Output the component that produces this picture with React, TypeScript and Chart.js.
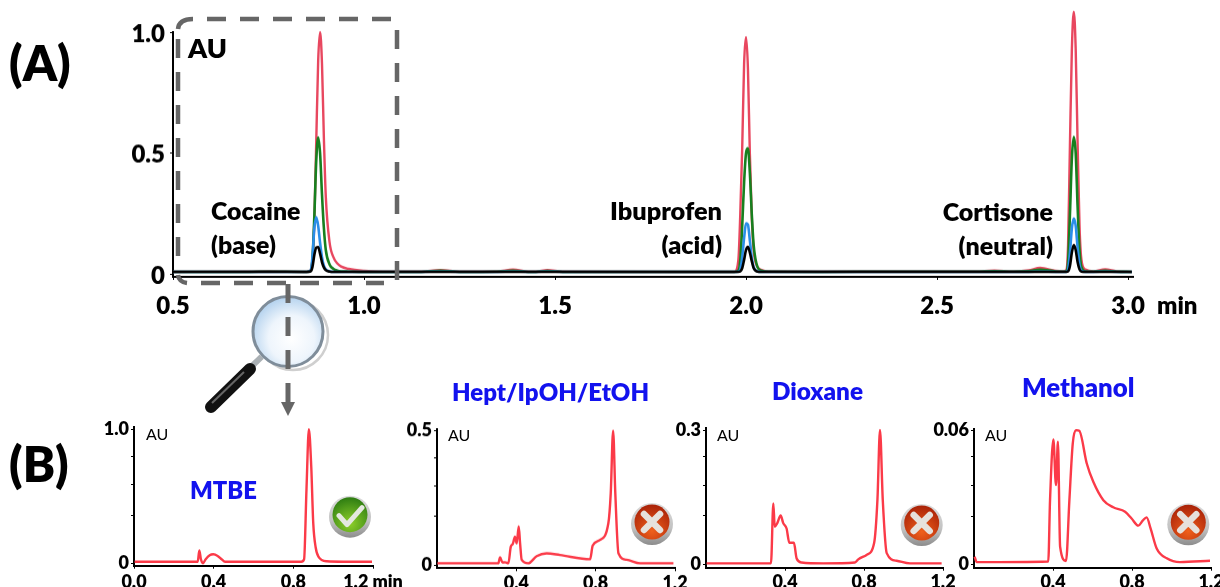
import React, { useEffect, useRef } from "react";
import { Chart, registerables } from "chart.js";

Chart.register(...registerables);

const FONT = "Lato, 'Open Sans', sans-serif";
const TICK_WEIGHT = "800";

// ---------- Panel A data ----------
const timesA = [
  0.5, 0.7, 0.75, 0.84,
  0.85, 0.86, 0.865, 0.87, 0.875, 0.88, 0.885, 0.89, 0.895, 0.9, 0.91, 0.92, 0.93, 0.94, 0.96, 1.0, 1.05,
  1.15, 1.2, 1.25, 1.35, 1.39, 1.43, 1.45, 1.48, 1.52, 1.8,
  1.97, 1.98, 1.985, 1.99, 1.995, 2.0, 2.005, 2.01, 2.015, 2.02, 2.03, 2.04, 2.06,
  2.2, 2.4, 2.6, 2.65, 2.7, 2.74, 2.77, 2.81, 2.83,
  2.838, 2.843, 2.848, 2.853, 2.858, 2.863, 2.868, 2.873, 2.878, 2.888,
  2.91, 2.94, 2.97, 3.01,
];
const redA = [
  0.01, 0.011, 0.013, 0.01,
  0.01, 0.016, 0.06, 0.22, 0.55, 0.88, 1.0, 0.87, 0.56, 0.32, 0.13, 0.07, 0.045, 0.032, 0.022, 0.014, 0.011,
  0.011, 0.017, 0.011, 0.012, 0.019, 0.011, 0.011, 0.017, 0.011, 0.01,
  0.01, 0.06, 0.25, 0.52, 0.87, 0.98, 0.85, 0.5, 0.24, 0.1, 0.03, 0.018, 0.012,
  0.011, 0.012, 0.012, 0.015, 0.012, 0.016, 0.026, 0.014, 0.012,
  0.016, 0.12, 0.54, 0.93, 1.084, 0.93, 0.54, 0.2, 0.06, 0.02,
  0.012, 0.02, 0.012, 0.01,
];
const greenA = [
  0.01, 0.01, 0.011, 0.01,
  0.01, 0.014, 0.06, 0.24, 0.47, 0.565, 0.5, 0.33, 0.19, 0.1, 0.04, 0.022, 0.015, 0.012, 0.011, 0.01, 0.01,
  0.01, 0.015, 0.01, 0.011, 0.015, 0.01, 0.01, 0.014, 0.01, 0.01,
  0.01, 0.015, 0.06, 0.2, 0.38, 0.5, 0.52, 0.42, 0.25, 0.12, 0.03, 0.015, 0.011,
  0.01, 0.011, 0.011, 0.013, 0.011, 0.013, 0.019, 0.012, 0.011,
  0.012, 0.05, 0.25, 0.48, 0.567, 0.5, 0.28, 0.1, 0.03, 0.012,
  0.011, 0.015, 0.011, 0.01,
];
const blueA = [
  0.01, 0.01, 0.01, 0.01,
  0.01, 0.015, 0.07, 0.19, 0.235, 0.2, 0.13, 0.07, 0.035, 0.02, 0.012, 0.01, 0.01, 0.01, 0.01, 0.01, 0.01,
  0.01, 0.011, 0.01, 0.01, 0.011, 0.01, 0.01, 0.011, 0.01, 0.01,
  0.01, 0.011, 0.02, 0.07, 0.15, 0.21, 0.205, 0.14, 0.07, 0.03, 0.012, 0.01, 0.01,
  0.01, 0.01, 0.01, 0.01, 0.01, 0.01, 0.011, 0.01, 0.01,
  0.01, 0.02, 0.09, 0.19, 0.23, 0.2, 0.11, 0.04, 0.015, 0.01,
  0.01, 0.011, 0.01, 0.01,
];
const blackA = [
  0.01, 0.01, 0.01, 0.01,
  0.01, 0.012, 0.03, 0.08, 0.11, 0.112, 0.085, 0.05, 0.028, 0.017, 0.011, 0.01, 0.01, 0.01, 0.01, 0.01, 0.01,
  0.01, 0.01, 0.01, 0.01, 0.01, 0.01, 0.01, 0.01, 0.01, 0.01,
  0.01, 0.01, 0.012, 0.025, 0.06, 0.1, 0.113, 0.09, 0.055, 0.025, 0.011, 0.01, 0.01,
  0.01, 0.01, 0.01, 0.01, 0.01, 0.01, 0.01, 0.01, 0.01,
  0.01, 0.012, 0.035, 0.09, 0.12, 0.1, 0.05, 0.02, 0.011, 0.01,
  0.01, 0.01, 0.01, 0.01,
];
const xTicksA = [0.5, 1.0, 1.5, 2.0, 2.5, 3.0];
const xLabelsA = ["0.5", "1.0", "1.5", "2.0", "2.5", "3.0"];
const yTicksA = [0, 0.5, 1.0];
const yLabelsA = ["0", "0.5", "1.0"];

// ---------- Panel B data ----------
const timesMTBE = [0.003, 0.32, 0.328, 0.336, 0.346, 0.36, 0.38, 0.398, 0.42, 0.44, 0.457, 0.6, 0.84, 0.854, 0.866, 0.878, 0.89, 0.9, 0.912, 0.926, 0.968, 1.05, 1.195];
const valuesMTBE = [0.012, 0.012, 0.095, 0.03, 0.0, 0.03, 0.06, 0.067, 0.055, 0.03, 0.012, 0.012, 0.012, 0.03, 0.55, 1.0, 0.72, 0.3, 0.12, 0.05, 0.015, 0.012, 0.012];

const timesHept = [0.002, 0.309, 0.318, 0.33, 0.343, 0.36, 0.372, 0.382, 0.393, 0.402, 0.412, 0.419, 0.427, 0.46, 0.503, 0.553, 0.62, 0.772, 0.785, 0.822, 0.864, 0.876, 0.888, 0.899, 0.915, 0.956, 1.024, 1.192];
const valuesHept = [0.006, 0.006, 0.0285, 0.009, 0.01, 0.006, 0.068, 0.078, 0.105, 0.08, 0.143, 0.08, 0.019, 0.006, 0.033, 0.043, 0.037, 0.021, 0.072, 0.093, 0.155, 0.267, 0.5, 0.267, 0.043, 0.019, 0.006, 0.006];

const timesDioxane = [0.003, 0.329, 0.341, 0.348, 0.361, 0.378, 0.391, 0.408, 0.422, 0.445, 0.459, 0.484, 0.594, 0.754, 0.771, 0.813, 0.851, 0.868, 0.881, 0.895, 0.915, 0.965, 1.033, 1.193];
const valuesDioxane = [0.002, 0.002, 0.136, 0.084, 0.092, 0.109, 0.092, 0.08, 0.048, 0.048, 0.013, 0.004, 0.002, 0.004, 0.011, 0.021, 0.047, 0.144, 0.3, 0.144, 0.025, 0.008, 0.002, 0.002];

const timesMethanol = [0.003, 0.014, 0.376, 0.385, 0.402, 0.415, 0.425, 0.436, 0.466, 0.483, 0.5, 0.516, 0.533, 0.571, 0.604, 0.655, 0.705, 0.765, 0.798, 0.832, 0.854, 0.874, 0.894, 0.925, 0.976, 1.043, 1.195];
const valuesMethanol = [0.0034, 0.001, 0.0013, 0.0287, 0.0558, 0.0354, 0.0548, 0.0079, 0.0015, 0.0287, 0.054, 0.06, 0.0597, 0.0451, 0.0369, 0.0287, 0.0255, 0.0235, 0.0205, 0.0173, 0.0195, 0.021, 0.0161, 0.0071, 0.0027, 0.001, 0.0016];

const xTicksMTBE = [0.0, 0.4, 0.8, 1.2];
const xLabelsMTBE = ["0.0", "0.4", "0.8", "1.2 min"];
const xTicksOther = [0.4, 0.8, 1.2];
const xLabelsOther = ["0.4", "0.8", "1.2"];
const yTicksMTBE = [0, 0.36, 0.585, 0.8, 1.0];
const yLabelsMTBE = ["0", "", "", "", "1.0"];
const yTicksHept = [0, 0.18, 0.2925, 0.4, 0.5];
const yLabelsHept = ["0", "", "", "", "0.5"];
const yTicksDioxane = [0, 0.108, 0.1755, 0.24, 0.3];
const yLabelsDioxane = ["0", "", "", "", "0.3"];
const yTicksMethanol = [0, 0.0216, 0.0351, 0.048, 0.06];
const yLabelsMethanol = ["0", "", "", "", "0.06"];

const RED_A = "#e8475f";
const GREEN_A = "#17801f";
const BLUE_A = "#2a8ee8";
const RED_B = "#fb3a48";
const BLUE_TEXT = "#1212ee";

type Frame = { l: number; t: number; r: number; b: number };
type PanelCfg = {
  frame: Frame;
  datasets: any[];
  xMin: number;
  xMax: number;
  xTicks: number[];
  xLabels: string[];
  yMin: number;
  yMax: number;
  yTicks: number[];
  yLabels: string[];
  fontSize: number;
  xPad: number;
  yPad: number;
  yShift: number;
  extraBottom: number;
};

const series = (xs: number[], ys: number[]) => xs.map((x, i) => ({ x, y: ys[i] }));

const line = (label: string, xs: number[], ys: number[], color: string, width: number) => ({
  label,
  data: series(xs, ys),
  borderColor: color,
  borderWidth: width,
  pointRadius: 0,
  cubicInterpolationMode: "monotone",
  clip: false,
});

const panelA: PanelCfg = {
  frame: { l: 173, t: 32, r: 1133, b: 276.7 },
  datasets: [
    line("black", timesA, blackA, "#000000", 2.6),
    line("blue", timesA, blueA, BLUE_A, 2.6),
    line("green", timesA, greenA, GREEN_A, 2.6),
    line("red", timesA, redA, RED_A, 2.4),
  ],
  xMin: 0.5,
  xMax: 3.013,
  xTicks: xTicksA,
  xLabels: xLabelsA,
  yMin: -0.011,
  yMax: 1.0,
  yTicks: yTicksA,
  yLabels: yLabelsA,
  fontSize: 24,
  xPad: 12,
  yPad: 5,
  yShift: 2,
  extraBottom: 40,
};

const panelsB: PanelCfg[] = [
  {
    frame: { l: 134, t: 427, r: 373, b: 565.7 },
    datasets: [line("MTBE", timesMTBE, valuesMTBE, RED_B, 2.4)],
    xMin: 0, xMax: 1.2, xTicks: xTicksMTBE, xLabels: xLabelsMTBE,
    yMin: -0.018, yMax: 1.017, yTicks: yTicksMTBE, yLabels: yLabelsMTBE,
    fontSize: 18, xPad: 3, yPad: 2, yShift: 0, extraBottom: 21.3,
  },
  {
    frame: { l: 437, t: 429.3, r: 675, b: 568.3 },
    datasets: [line("Hept/IpOH/EtOH", timesHept, valuesHept, RED_B, 2.4)],
    xMin: 0, xMax: 1.2, xTicks: xTicksOther, xLabels: xLabelsOther,
    yMin: -0.0123, yMax: 0.505, yTicks: yTicksHept, yLabels: yLabelsHept,
    fontSize: 18, xPad: 1, yPad: 2, yShift: 0, extraBottom: 18.7,
  },
  {
    frame: { l: 706, t: 428, r: 943, b: 567.7 },
    datasets: [line("Dioxane", timesDioxane, valuesDioxane, RED_B, 2.4)],
    xMin: 0, xMax: 1.2, xTicks: xTicksOther, xLabels: xLabelsOther,
    yMin: -0.0076, yMax: 0.3045, yTicks: yTicksDioxane, yLabels: yLabelsDioxane,
    fontSize: 18, xPad: 1, yPad: 2, yShift: 0, extraBottom: 19.3,
  },
  {
    frame: { l: 974, t: 429, r: 1211, b: 567.7 },
    datasets: [line("Methanol", timesMethanol, valuesMethanol, RED_B, 2.4)],
    xMin: 0, xMax: 1.2, xTicks: xTicksOther, xLabels: xLabelsOther,
    yMin: -0.0015, yMax: 0.0605, yTicks: yTicksMethanol, yLabels: yLabelsMethanol,
    fontSize: 18, xPad: 1, yPad: 2, yShift: 0, extraBottom: 19.3,
  },
];

const LEFT_EXTRA = 70;
const TOP_EXTRA = 30;
const RIGHT_EXTRA = 40;

function Panel({ cfg }: { cfg: PanelCfg }) {
  const ref = useRef<HTMLCanvasElement>(null);
  const { frame } = cfg;
  const width = frame.r - frame.l + LEFT_EXTRA + RIGHT_EXTRA;
  const height = frame.b - frame.t + TOP_EXTRA + cfg.extraBottom;

  useEffect(() => {
    if (!ref.current) return;
    const font = { family: FONT, size: cfg.fontSize, weight: TICK_WEIGHT };
    const chart = new Chart(ref.current, {
      type: "line",
      data: { datasets: cfg.datasets },
      options: {
        animation: false,
        responsive: false,
        maintainAspectRatio: false,
        layout: {
          autoPadding: false,
          padding: { left: 0, top: TOP_EXTRA, right: RIGHT_EXTRA, bottom: 0 },
        },
        plugins: { legend: { display: false }, tooltip: { enabled: false }, title: { display: false } },
        scales: {
          x: {
            type: "linear",
            min: cfg.xMin,
            max: cfg.xMax,
            afterBuildTicks: (s: any) => { s.ticks = cfg.xTicks.map((value) => ({ value })); },
            afterFit: (s: any) => { s.height = cfg.extraBottom; },
            border: { display: true, color: "#000", width: 2 },
            grid: { display: true, drawOnChartArea: false, drawTicks: true, tickLength: 3, tickColor: "#000", tickWidth: 1 },
            ticks: {
              autoSkip: false,
              maxRotation: 0,
              color: "#000",
              padding: cfg.xPad,
              font,
              callback: (v: any) => cfg.xLabels[cfg.xTicks.indexOf(v)] ?? "",
            },
          },
          y: {
            type: "linear",
            min: cfg.yMin,
            max: cfg.yMax,
            afterBuildTicks: (s: any) => { s.ticks = cfg.yTicks.map((value) => ({ value })); },
            afterFit: (s: any) => { s.width = LEFT_EXTRA; },
            border: { display: true, color: "#000", width: 2 },
            grid: { display: true, drawOnChartArea: false, drawTicks: true, tickLength: 3, tickColor: "#000", tickWidth: 1 },
            ticks: {
              autoSkip: false,
              color: "#000",
              padding: cfg.yPad,
              labelOffset: cfg.yShift,
              font,
              callback: (v: any) => cfg.yLabels[cfg.yTicks.indexOf(v)] ?? "",
            },
          },
        },
      } as any,
    });
    return () => chart.destroy();
  }, []);

  return (
    <canvas
      ref={ref}
      width={width}
      height={height}
      style={{ position: "absolute", left: frame.l - LEFT_EXTRA, top: frame.t - TOP_EXTRA, width, height }}
    />
  );
}

type Note = { text: string; x: number; y: number; size: number; color?: string; weight?: number; right?: boolean };

// x is the left edge (or the right edge when right is set), y the vertical centre of the text
const notes: Note[] = [
  { text: "(A)", x: 9, y: 62, size: 48.5, weight: 800 },
  { text: "(B)", x: 9, y: 463, size: 48.5, weight: 800 },
  { text: "AU", x: 188, y: 47, size: 27, weight: 800 },
  { text: "Cocaine", x: 211, y: 211, size: 24.8, weight: 800 },
  { text: "(base)", x: 211, y: 245, size: 24.8, weight: 800 },
  { text: "Ibuprofen", x: 722, y: 211, size: 25.3, weight: 800, right: true },
  { text: "(acid)", x: 722, y: 245, size: 25.3, weight: 800, right: true },
  { text: "Cortisone", x: 1053, y: 211, size: 25, weight: 800, right: true },
  { text: "(neutral)", x: 1053, y: 245, size: 25, weight: 800, right: true },
  { text: "min", x: 1157, y: 305, size: 24, weight: 800 },
  { text: "AU", x: 146, y: 434, size: 16, weight: 400 },
  { text: "AU", x: 448, y: 435, size: 16, weight: 400 },
  { text: "AU", x: 717, y: 435, size: 16, weight: 400 },
  { text: "AU", x: 985, y: 435, size: 16, weight: 400 },
  { text: "MTBE", x: 190, y: 491, size: 23.8, weight: 800, color: BLUE_TEXT },
  { text: "Hept/IpOH/EtOH", x: 452, y: 392, size: 24, weight: 800, color: BLUE_TEXT },
  { text: "Dioxane", x: 772, y: 391, size: 24.3, weight: 800, color: BLUE_TEXT },
  { text: "Methanol", x: 1022, y: 388, size: 25.8, weight: 800, color: BLUE_TEXT },
];

function Badge({ cx, cy, ok }: { cx: number; cy: number; ok: boolean }) {
  return (
    <g transform={`translate(${cx} ${cy})`}>
      <circle cx={0} cy={1} r={21} fill="url(#rim)" />
      <circle cx={0} cy={-1} r={17.5} fill={`url(#${ok ? "okFill" : "badFill"})`} />
      {ok ? (
        <path d="M-11 0 L-3 9 L12 -8" fill="none" stroke="#e4e8df" strokeWidth={5} strokeLinecap="round" strokeLinejoin="round" />
      ) : (
        <path d="M-8 -9 L8 7 M8 -9 L-8 7" fill="none" stroke="#e6e1dc" strokeWidth={6.5} strokeLinecap="round" />
      )}
    </g>
  );
}

function Overlay() {
  const dash = { fill: "none", stroke: "#666", strokeWidth: 4.5 };
  return (
    <svg width={1220} height={587} style={{ position: "absolute", left: 0, top: 0 }}>
      <defs>
        <radialGradient id="lens" cx="55%" cy="60%" r="60%">
          <stop offset="0%" stopColor="#ffffff" />
          <stop offset="55%" stopColor="#eef5fc" />
          <stop offset="100%" stopColor="#b4d2ee" />
        </radialGradient>
        <linearGradient id="rim" x1="0" y1="0" x2="0" y2="1">
          <stop offset="0%" stopColor="#dcdcdc" />
          <stop offset="60%" stopColor="#c2c2c2" />
          <stop offset="100%" stopColor="#8c8c8c" />
        </linearGradient>
        <radialGradient id="okFill" cx="50%" cy="75%" r="75%">
          <stop offset="0%" stopColor="#8ed02a" />
          <stop offset="100%" stopColor="#2d7c12" />
        </radialGradient>
        <radialGradient id="badFill" cx="50%" cy="75%" r="75%">
          <stop offset="0%" stopColor="#f0601c" />
          <stop offset="100%" stopColor="#a92208" />
        </radialGradient>
      </defs>

      {/* dashed zoom box: each side has its own dash phase, as in the figure */}
      <path d="M178 29 Q179 19 193 19" {...dash} />
      <path d="M187 283 Q179 282 178 275" {...dash} />
      <line x1={207} y1={19} x2={391} y2={19} {...dash} strokeDasharray="19 14" />
      <line x1={397} y1={30} x2={397} y2={280} {...dash} strokeDasharray="19 14" />
      <line x1={201} y1={283} x2={384} y2={283} {...dash} strokeDasharray="19 14" />
      <line x1={178} y1={39} x2={178} y2={258} {...dash} strokeDasharray="19 14" />

      <circle cx={293} cy={335} r={35} fill="none" stroke="#cfcfcf" strokeWidth={2.5} />
      <line x1={261.7} y1={356.7} x2={252} y2={366} stroke="#aab0b4" strokeWidth={6} />
      <line x1={250} y1={369} x2={211} y2={407} stroke="#111" strokeWidth={12} strokeLinecap="round" />
      <line x1={244} y1={372} x2={212} y2={403} stroke="#666" strokeWidth={2} />
      <circle cx={288} cy={331.5} r={35} fill="url(#lens)" stroke="#7f8d9a" strokeWidth={3} />

      <line x1={288} y1={284} x2={288} y2={402} stroke="#666" strokeWidth={5} strokeDasharray="19 14" />
      <polygon points="281,402 295,402 288,416" fill="#666" />

      <Badge cx={350} cy={515.7} ok />
      <Badge cx={652} cy={523} ok={false} />
      <Badge cx={921.7} cy={524} ok={false} />
      <Badge cx={1188.3} cy={523.3} ok={false} />
    </svg>
  );
}

export default function App() {
  return (
    <div
      style={{
        position: "absolute",
        left: 0,
        top: 0,
        width: 1220,
        height: 587,
        overflow: "hidden",
        background: "#fff",
        fontFamily: FONT,
        filter: "blur(0.4px)",
      }}
    >
      <Panel cfg={panelA} />
      {panelsB.map((p, i) => (
        <Panel key={i} cfg={p} />
      ))}
      <Overlay />
      {notes.map((n, i) => (
        <div
          key={i}
          style={{
            position: "absolute",
            top: n.y,
            transform: "translateY(-50%)",
            whiteSpace: "nowrap",
            lineHeight: 1,
            fontSize: n.size,
            fontWeight: n.weight,
            color: n.color ?? "#000",
            ...(n.right ? { right: 1220 - n.x } : { left: n.x }),
          }}
        >
          {n.text}
        </div>
      ))}
    </div>
  );
}
